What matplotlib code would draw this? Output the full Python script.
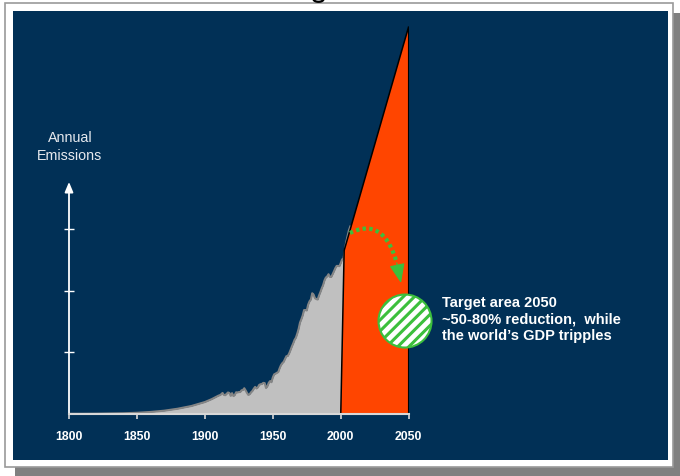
import matplotlib
matplotlib.use("Agg")
import numpy as np
import matplotlib.pyplot as plt
from matplotlib.patches import Rectangle, Polygon, Circle

plt.rcParams['font.family'] = ['Liberation Sans', 'DejaVu Sans']
plt.rcParams['hatch.linewidth'] = 2.2

# ---- data (GtC per year) ----
years_early = [1800, 1810, 1820, 1830, 1840, 1850, 1860, 1870, 1880, 1890, 1900, 1905]
emis_early = [0.01, 0.01, 0.014, 0.024, 0.033, 0.054, 0.091, 0.147, 0.236, 0.356, 0.534, 0.663]
years_late = list(range(1910, 2008))
emis_late = [0.82, 0.84, 0.88, 0.94, 0.85, 0.84, 0.90, 0.96, 0.94, 0.81,
             0.93, 0.80, 0.85, 0.97, 0.96, 0.98, 0.98, 1.06, 1.07, 1.15,
             1.05, 0.94, 0.85, 0.89, 0.97, 1.03, 1.13, 1.21, 1.14, 1.19,
             1.30, 1.33, 1.34, 1.39, 1.38, 1.16, 1.24, 1.39, 1.47, 1.42,
             1.63, 1.77, 1.80, 1.84, 1.87, 2.04, 2.18, 2.27, 2.33, 2.46,
             2.58, 2.59, 2.70, 2.85, 3.01, 3.15, 3.31, 3.41, 3.59, 3.80,
             4.08, 4.23, 4.40, 4.64, 4.64, 4.62, 4.88, 5.03, 5.11, 5.39,
             5.33, 5.17, 5.13, 5.11, 5.29, 5.44, 5.61, 5.75, 5.96, 6.09,
             6.14, 6.24, 6.12, 6.12, 6.24, 6.37, 6.51, 6.61, 6.61, 6.60,
             6.74, 6.90, 6.94, 7.31, 7.67, 7.94, 8.20, 8.37]
years = years_early + years_late
emissions = emis_early + emis_late

# required path wedge (year, GtC)
wedge_years = [2000, 2002.5, 2050, 2050]
wedge_vals = [0.0, 7.3, 17.3, 0.0]

target_year = 2047.3
target_val = 4.15

x_ticks = [1800, 1850, 1900, 1950, 2000, 2050]
y_ticks = [2.75, 5.5, 8.25]

NAVY = '#013056'
W, H = 680, 477

fig = plt.figure(figsize=(W / 100, H / 100), dpi=100)

# ---- background frame (pixel coordinates) ----
bg = fig.add_axes([0, 0, 1, 1])
bg.set_xlim(0, W)
bg.set_ylim(H, 0)
bg.axis('off')
bg.add_patch(Rectangle((15, 14), W - 15, H - 14, facecolor='#808080', edgecolor='none'))
bg.add_patch(Rectangle((5, 4), 668, 464, facecolor='white', edgecolor='#9a9a9a', lw=1.2))
bg.add_patch(Rectangle((13, 12), 655, 449, facecolor=NAVY, edgecolor='none'))
# tail of the clipped title glyph at the very top
tt = np.linspace(0, np.pi, 20)
bg.plot(318.5 - 5 * np.cos(tt), 0.2 + 2.6 * np.sin(tt), color='black', lw=1.6,
        solid_capstyle='round')

bg.text(70, 147, 'Annual\nEmissions', fontsize=10.3, color='#e6e9ee',
        ha='center', va='center', linespacing=1.3)
bg.text(442, 296, "Target area 2050\n~50-80% reduction,  while\nthe world\u2019s GDP tripples",
        fontsize=10.5, color='white', fontweight='bold', ha='left', va='top',
        linespacing=1.22)

# ---- main axes ----
left_px, right_px, base_px, top_px = 69, 408.7, 415, 20
px_per_unit = 22.4
px_per_year = (right_px - left_px) / 250.0
ax = fig.add_axes([left_px / W, (H - base_px) / H,
                   (right_px - left_px) / W, (base_px - top_px) / H])
ax.set_facecolor('none')
ax.set_xlim(1800, 2050)
ax.set_ylim(0, (base_px - top_px) / px_per_unit)

ax.fill_between(years, emissions, 0, color='#c0c0c0', lw=0, zorder=2)
ax.plot(years, emissions, color='#858585', lw=1.5, zorder=3)

ax.add_patch(Polygon(list(zip(wedge_years, wedge_vals)), closed=True,
                     facecolor='#ff4500', edgecolor='black', lw=1.1, zorder=4,
                     joinstyle='miter'))

for s in ['top', 'right', 'left']:
    ax.spines[s].set_visible(False)
ax.spines['bottom'].set_color('#d8d8d8')
ax.spines['bottom'].set_linewidth(1.5)
ax.spines['bottom'].set_zorder(8)

ax.set_xticks(x_ticks)
ax.set_xticklabels([str(t) for t in x_ticks])
ax.tick_params(axis='x', direction='out', length=3.8, width=1.2, colors='#d8d8d8',
               labelcolor='white', labelsize=8.8, pad=7.5)
for lab in ax.get_xticklabels():
    lab.set_fontweight('bold')

ax.set_yticks(y_ticks)
ax.set_yticklabels([])
ax.tick_params(axis='y', direction='inout', length=6.5, width=1.0, colors='white')

ax.annotate('', xy=(1800, 10.36), xytext=(1800, 0),
            arrowprops=dict(arrowstyle='-|>,head_length=0.6,head_width=0.25',
                            color='white', lw=1.3, shrinkA=0, shrinkB=0),
            annotation_clip=False, zorder=8)

# ---- overlay (pixel coordinates) for the target circle and curved arrow ----
ov = fig.add_axes([0, 0, 1, 1])
ov.set_xlim(0, W)
ov.set_ylim(H, 0)
ov.axis('off')
ov.set_facecolor('none')

green = '#3cbf3c'
cx = left_px + (target_year - 1800) * px_per_year
cy = base_px - target_val * px_per_unit
ov.add_patch(Circle((cx, cy), 26.5, facecolor='white', edgecolor=green,
                    hatch='///', lw=1.5, zorder=5))

# quadratic Bezier arc (pixel space)
A = np.array([350.0, 234.0])
C = np.array([390.0, 214.0])
B = np.array([401.0, 284.0])
t = np.linspace(0, 0.84, 60)[:, None]
pts = (1 - t) ** 2 * A + 2 * t * (1 - t) * C + t ** 2 * B
ov.plot(pts[:, 0], pts[:, 1], color=green, lw=3.0, linestyle=(0, (0.8, 0.8)),
        dash_capstyle='butt', zorder=6)
ov.annotate('', xy=tuple(B), xytext=tuple(pts[-1]),
            arrowprops=dict(arrowstyle='-|>,head_length=0.8,head_width=0.32',
                            mutation_scale=15, color=green, lw=0.8,
                            shrinkA=0, shrinkB=0), zorder=6)

fig.savefig('out.png', dpi=100)
